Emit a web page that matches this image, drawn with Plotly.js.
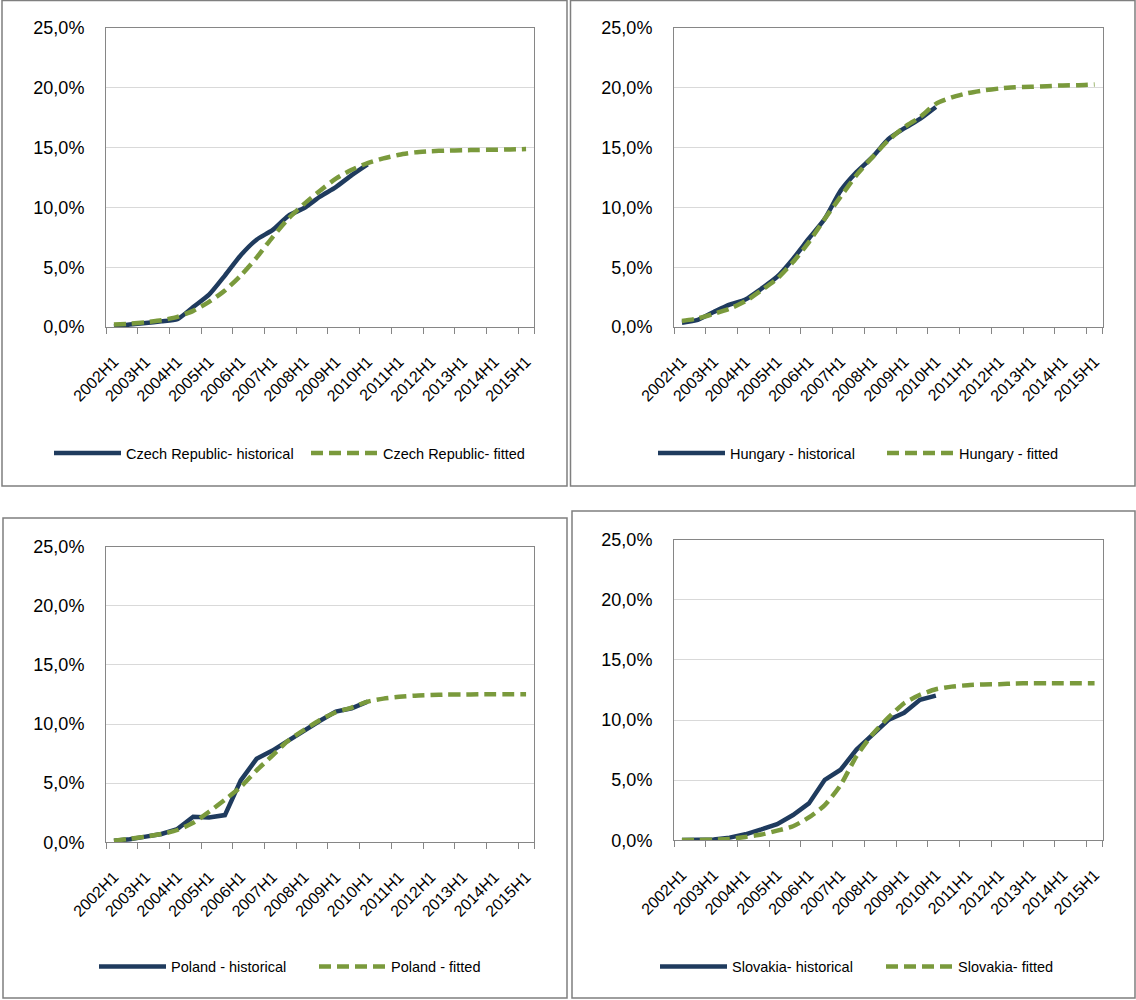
<!DOCTYPE html>
<html>
<head>
<meta charset="utf-8">
<script src="https://cdn.plot.ly/plotly-3.0.1.min.js"></script>
<style>
  html, body { margin: 0; padding: 0; background: #ffffff; }
  #chart { width: 1136px; height: 1000px; }
</style>
</head>
<body>
<div id="chart"></div>
<script>
// Half-year periods on the category axis
const periods = [
  '2002H1','2002H2','2003H1','2003H2','2004H1','2004H2','2005H1','2005H2',
  '2006H1','2006H2','2007H1','2007H2','2008H1','2008H2','2009H1','2009H2',
  '2010H1','2010H2','2011H1','2011H2','2012H1','2012H2','2013H1','2013H2',
  '2014H1','2014H2','2015H1'
];
// Labelled periods (every first half-year)
const tickPeriods = [
  '2002H1','2003H1','2004H1','2005H1','2006H1','2007H1','2008H1',
  '2009H1','2010H1','2011H1','2012H1','2013H1','2014H1','2015H1'
];
const yTicks = [0, 5, 10, 15, 20, 25];
const yTickLabels = ['0,0%', '5,0%', '10,0%', '15,0%', '20,0%', '25,0%'];

// Values in percent; historical series run 2002H1-2010H1
const czHistorical = [0.05, 0.2, 0.33, 0.47, 0.65, 1.67, 2.7, 4.3, 6.0, 7.3, 8.1, 9.3, 9.95, 10.9, 11.7, 12.7, 13.6];
const czFitted = [0.2, 0.28, 0.4, 0.56, 0.85, 1.35, 2.1, 3.05, 4.3, 5.8, 7.5, 9.05, 10.3, 11.4, 12.4, 13.15, 13.7,
                  14.1, 14.4, 14.6, 14.7, 14.75, 14.78, 14.8, 14.82, 14.84, 14.88];

const huHistorical = [0.36, 0.6, 1.25, 1.87, 2.3, 3.2, 4.2, 5.7, 7.4, 9.05, 11.4, 12.95, 14.2, 15.7, 16.6, 17.4, 18.4];
const huFitted = [0.5, 0.72, 1.1, 1.53, 2.15, 3.06, 4.04, 5.43, 7.1, 9.05, 10.9, 12.7, 14.2, 15.6, 16.7, 17.55, 18.66,
                  19.2, 19.55, 19.78, 19.94, 20.05, 20.08, 20.14, 20.2, 20.22, 20.28];

const plHistorical = [0.14, 0.25, 0.48, 0.7, 1.12, 2.16, 2.1, 2.3, 5.24, 7.06, 7.76, 8.6, 9.5, 10.28, 11.06, 11.34, 11.9];
const plFitted = [0.14, 0.3, 0.48, 0.7, 1.04, 1.65, 2.58, 3.6, 4.68, 6.08, 7.34, 8.6, 9.5, 10.34, 11.0, 11.4, 11.9,
                  12.15, 12.3, 12.4, 12.45, 12.5, 12.5, 12.52, 12.52, 12.52, 12.52];

const skHistorical = [0.03, 0.03, 0.06, 0.22, 0.5, 0.9, 1.34, 2.1, 3.07, 5.03, 5.87, 7.54, 8.8, 10.0, 10.6, 11.68, 12.03];
const skFitted = [0.02, 0.03, 0.05, 0.1, 0.28, 0.48, 0.8, 1.17, 1.9, 2.93, 4.6, 7.0, 8.8, 10.2, 11.4, 12.1, 12.56,
                  12.78, 12.9, 12.96, 12.98, 13.04, 13.06, 13.06, 13.06, 13.06, 13.06];

const panels = [
  { hist: czHistorical, fit: czFitted, histName: 'Czech Republic- historical', fitName: 'Czech Republic- fitted', smooth: true },
  { hist: huHistorical, fit: huFitted, histName: 'Hungary - historical', fitName: 'Hungary - fitted', smooth: true },
  { hist: plHistorical, fit: plFitted, histName: 'Poland - historical', fitName: 'Poland - fitted', smooth: false },
  { hist: skHistorical, fit: skFitted, histName: 'Slovakia- historical', fitName: 'Slovakia- fitted', smooth: false }
];

// Page geometry (pixels on a 1136 x 1000 canvas)
const W = 1136, H = 1000;
const plotBoxes = [
  { l: 106, r: 534, t: 28, b: 327 },
  { l: 674, r: 1102.5, t: 28, b: 327 },
  { l: 106, r: 534, t: 546.7, b: 842.3 },
  { l: 674, r: 1102.5, t: 539.7, b: 840.3 }
];
const frames = [
  { l: 2, r: 567, t: 0.5, b: 486 },
  { l: 570.5, r: 1135, t: 0.5, b: 486 },
  { l: 3, r: 567, t: 518, b: 998 },
  { l: 572, r: 1135, t: 511, b: 998 }
];
// Legend anchor and fixed text width of each entry
const legendPos = [
  { x: 49, y: 453, entry: 175 },
  { x: 653, y: 453, entry: 147 },
  { x: 94, y: 966.5, entry: 138 },
  { x: 655, y: 966.5, entry: 144 }
];

const NAVY = '#1F3B5E';
const OLIVE = '#7A9A3C';
const FONT = 'Liberation Sans, Arial, sans-serif';

const data = [];
const layout = {
  width: W, height: H,
  margin: { l: 0, r: 0, t: 0, b: 0 },
  paper_bgcolor: '#ffffff',
  plot_bgcolor: '#ffffff',
  font: { family: FONT, color: '#000000' },
  showlegend: true,
  shapes: []
};

panels.forEach((p, i) => {
  const n = i + 1;
  const xa = n === 1 ? 'x' : 'x' + n;
  const ya = n === 1 ? 'y' : 'y' + n;
  const lg = n === 1 ? 'legend' : 'legend' + n;
  const box = plotBoxes[i];

  data.push({
    type: 'scatter', mode: 'lines',
    x: periods.slice(0, p.hist.length), y: p.hist,
    name: p.histName, xaxis: xa, yaxis: ya, legend: lg,
    line: { color: NAVY, width: 4.5, shape: p.smooth ? 'spline' : 'linear', smoothing: 0.6 },
    hoverinfo: 'skip'
  });
  data.push({
    type: 'scatter', mode: 'lines',
    x: periods, y: p.fit,
    name: p.fitName, xaxis: xa, yaxis: ya, legend: lg,
    line: { color: OLIVE, width: 4.5, dash: '12px,6px', shape: 'spline', smoothing: 0.6 },
    hoverinfo: 'skip'
  });

  layout[n === 1 ? 'xaxis' : 'xaxis' + n] = {
    domain: [box.l / W, box.r / W],
    anchor: ya,
    type: 'category',
    categoryorder: 'array', categoryarray: periods,
    range: [-0.5, periods.length - 0.5],
    tickmode: 'array', tickvals: tickPeriods, ticktext: tickPeriods,
    tickson: 'boundaries',
    ticks: 'outside', ticklen: 6, tickcolor: '#868686', tickwidth: 1,
    tickangle: -45,
    tickfont: { family: FONT, size: 16, color: '#000000' },
    ticklabelstandoff: 18,
    showline: true, linecolor: '#868686', linewidth: 1, mirror: true,
    showgrid: false, zeroline: false, fixedrange: true
  };
  layout[n === 1 ? 'yaxis' : 'yaxis' + n] = {
    domain: [1 - box.b / H, 1 - box.t / H],
    anchor: xa,
    range: [0, 25],
    tickmode: 'array', tickvals: yTicks, ticktext: yTickLabels,
    tickfont: { family: FONT, size: 18, color: '#000000' },
    ticks: '', ticklabelstandoff: 17,
    showgrid: true, gridcolor: '#D9D9D9', gridwidth: 1,
    showline: true, linecolor: '#868686', linewidth: 1, mirror: true,
    zeroline: false, fixedrange: true
  };
  layout[lg] = {
    orientation: 'h',
    x: legendPos[i].x / W, y: 1 - legendPos[i].y / H,
    xanchor: 'left', yanchor: 'middle',
    itemwidth: 67,
    entrywidth: legendPos[i].entry, entrywidthmode: 'pixels',
    font: { family: FONT, size: 14.5, color: '#000000' },
    bgcolor: 'rgba(0,0,0,0)', borderwidth: 0,
    traceorder: 'normal'
  };

  const f = frames[i];
  layout.shapes.push({
    type: 'rect', xref: 'paper', yref: 'paper',
    x0: f.l / W, x1: f.r / W, y0: 1 - f.b / H, y1: 1 - f.t / H,
    line: { color: '#7F7F7F', width: 1.5 }, fillcolor: 'rgba(0,0,0,0)', layer: 'below'
  });
});

Plotly.newPlot('chart', data, layout, { staticPlot: true, displayModeBar: false });
</script>
</body>
</html>
